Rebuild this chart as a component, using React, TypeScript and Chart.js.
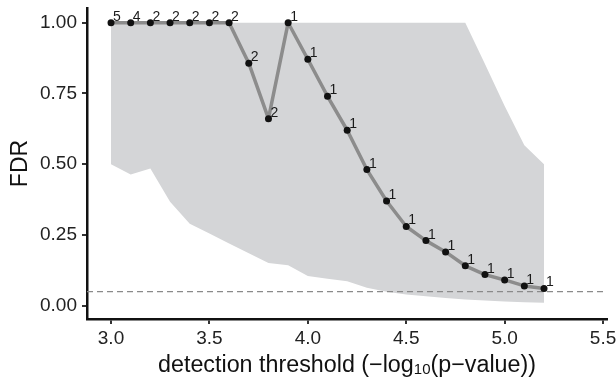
import React, { useEffect, useRef } from 'react';
import { Chart, registerables } from 'chart.js';

Chart.register(...registerables);

const thresholds = [3.0, 3.1, 3.2, 3.3, 3.4, 3.5, 3.6, 3.7, 3.8, 3.9, 4.0, 4.1, 4.2, 4.3, 4.4, 4.5, 4.6, 4.7, 4.8, 4.9, 5.0, 5.1, 5.2];
const fdr = [1, 1, 1, 1, 1, 1, 1, 0.857, 0.661, 1, 0.871, 0.74, 0.62, 0.481, 0.37, 0.28, 0.23, 0.19, 0.141, 0.11, 0.091, 0.07, 0.061];
const counts = [5, 4, 2, 2, 2, 2, 2, 2, 2, 1, 1, 1, 1, 1, 1, 1, 1, 1, 1, 1, 1, 1, 1];
const upperBound = [1, 1, 1, 1, 1, 1, 1, 1, 1, 1, 1, 1, 1, 1, 1, 1, 1, 1, 1, 0.854, 0.706, 0.567, 0.5];
const lowerBound = [0.5, 0.464, 0.485, 0.367, 0.29, 0.255, 0.22, 0.185, 0.151, 0.143, 0.105, 0.095, 0.086, 0.063, 0.049, 0.04, 0.033, 0.027, 0.022, 0.018, 0.015, 0.012, 0.01];
const xTicks = [3.0, 3.5, 4.0, 4.5, 5.0, 5.5];
const yTicks = [0, 0.25, 0.5, 0.75, 1.0];
const fdrCutoff = 0.05;
const xRange = [2.878, 5.52];
const yRange = [-0.047, 1.052];
const xTitleMain = 'detection threshold (−log';
const xTitleSub = '10';
const xTitleEnd = '(p−value))';
const yTitle = 'FDR';

const FONT = "'Liberation Sans', Arial, Helvetica, sans-serif";

const labelPlugin = {
  id: 'countLabels',
  afterDatasetsDraw(chart: any) {
    const meta = chart.getDatasetMeta(0);
    const ctx = chart.ctx;
    ctx.save();
    ctx.font = `14px ${FONT}`;
    ctx.fillStyle = '#1a1a1a';
    ctx.textAlign = 'left';
    ctx.textBaseline = 'alphabetic';
    meta.data.forEach((el: any, i: number) => {
      ctx.fillText(String(counts[i]), el.x + 2, el.y - 2);
    });
    ctx.restore();
  },
};

const titlePlugin = {
  id: 'axisTitles',
  afterDraw(chart: any) {
    const ctx = chart.ctx;
    const area = chart.chartArea;
    ctx.save();
    ctx.fillStyle = '#111';
    ctx.font = `23px ${FONT}`;
    ctx.textAlign = 'center';
    ctx.textBaseline = 'middle';
    ctx.translate(21, (area.top + area.bottom) / 2);
    ctx.rotate(-Math.PI / 2);
    ctx.fillText(yTitle, 0, 0);
    ctx.restore();

    ctx.save();
    ctx.fillStyle = '#111';
    ctx.textAlign = 'left';
    ctx.textBaseline = 'alphabetic';
    const mainFont = `23.3px ${FONT}`;
    const subFont = `15px ${FONT}`;
    ctx.font = mainFont;
    const w1 = ctx.measureText(xTitleMain).width;
    const w3 = ctx.measureText(xTitleEnd).width;
    ctx.font = subFont;
    const w2 = ctx.measureText(xTitleSub).width;
    const total = w1 + w2 + w3;
    const cx = (area.left + area.right) / 2;
    let x = cx - total / 2;
    const base = 372;
    ctx.font = mainFont;
    ctx.fillText(xTitleMain, x, base);
    x += w1;
    ctx.font = subFont;
    ctx.fillText(xTitleSub, x, base + 1.5);
    x += w2;
    ctx.font = mainFont;
    ctx.fillText(xTitleEnd, x, base);
    ctx.restore();
  },
};

export default function App() {
  const ref = useRef<HTMLCanvasElement | null>(null);
  useEffect(() => {
    if (!ref.current) return;
    const tickFont = { family: FONT, size: 19 };
    const chart = new Chart(ref.current, {
      type: 'line',
      data: {
        datasets: [
          {
            label: 'FDR',
            data: thresholds.map((x, i) => ({ x, y: fdr[i] })),
            borderColor: '#8c8c8c',
            borderWidth: 3.5,
            borderJoinStyle: 'round',
            borderCapStyle: 'round',
            pointRadius: 3.5,
            pointBackgroundColor: '#111',
            pointBorderWidth: 0,
            fill: false,
            order: 0,
          },
          {
            label: 'cutoff',
            data: [
              { x: xRange[0], y: fdrCutoff },
              { x: xRange[1], y: fdrCutoff },
            ],
            borderColor: '#8a8a8a',
            borderWidth: 1.3,
            borderDash: [6, 4],
            pointRadius: 0,
            fill: false,
            order: 1,
          },
          {
            label: 'upper',
            data: thresholds.map((x, i) => ({ x, y: upperBound[i] })),
            borderWidth: 0,
            borderColor: 'rgba(0,0,0,0)',
            pointRadius: 0,
            backgroundColor: 'rgb(212,213,215)',
            fill: '+1',
            order: 2,
          },
          {
            label: 'lower',
            data: thresholds.map((x, i) => ({ x, y: lowerBound[i] })),
            borderWidth: 0,
            borderColor: 'rgba(0,0,0,0)',
            pointRadius: 0,
            fill: false,
            order: 3,
          },
        ],
      } as any,
      options: {
        animation: false,
        responsive: true,
        maintainAspectRatio: false,
        layout: { padding: { top: 8, right: 9, left: 0, bottom: 0 } },
        plugins: { legend: { display: false }, tooltip: { enabled: false } },
        scales: {
          x: {
            type: 'linear',
            min: xRange[0],
            max: xRange[1],
            afterBuildTicks: (s: any) => {
              s.ticks = xTicks.map((v) => ({ value: v }));
            },
            afterFit: (s: any) => {
              s.height = 62;
              s.paddingLeft = 0;
              s.paddingRight = 0;
            },
            ticks: {
              callback: (v: any) => Number(v).toFixed(1),
              font: tickFont,
              color: '#222',
              padding: 3,
              maxRotation: 0,
              autoSkip: false,
            },
            grid: { drawOnChartArea: false, drawTicks: true, tickLength: 5, color: '#333', lineWidth: 2 },
            border: { display: true, color: '#111', width: 2.5 },
          },
          y: {
            type: 'linear',
            min: yRange[0],
            max: yRange[1],
            afterBuildTicks: (s: any) => {
              s.ticks = yTicks.map((v) => ({ value: v }));
            },
            afterFit: (s: any) => {
              s.width = 87;
              s.paddingTop = 0;
              s.paddingBottom = 0;
            },
            ticks: {
              callback: (v: any) => Number(v).toFixed(2),
              font: tickFont,
              color: '#222',
              padding: 5,
              autoSkip: false,
            },
            grid: { drawOnChartArea: false, drawTicks: true, tickLength: 5, color: '#333', lineWidth: 2 },
            border: { display: true, color: '#111', width: 2.5 },
          },
        },
      } as any,
      plugins: [labelPlugin, titlePlugin],
    });
    return () => chart.destroy();
  }, []);
  return (
    <div style={{ position: 'absolute', left: 0, top: 0, width: 616, height: 381 }}>
      <canvas ref={ref} style={{ display: 'block' }} />
    </div>
  );
}
